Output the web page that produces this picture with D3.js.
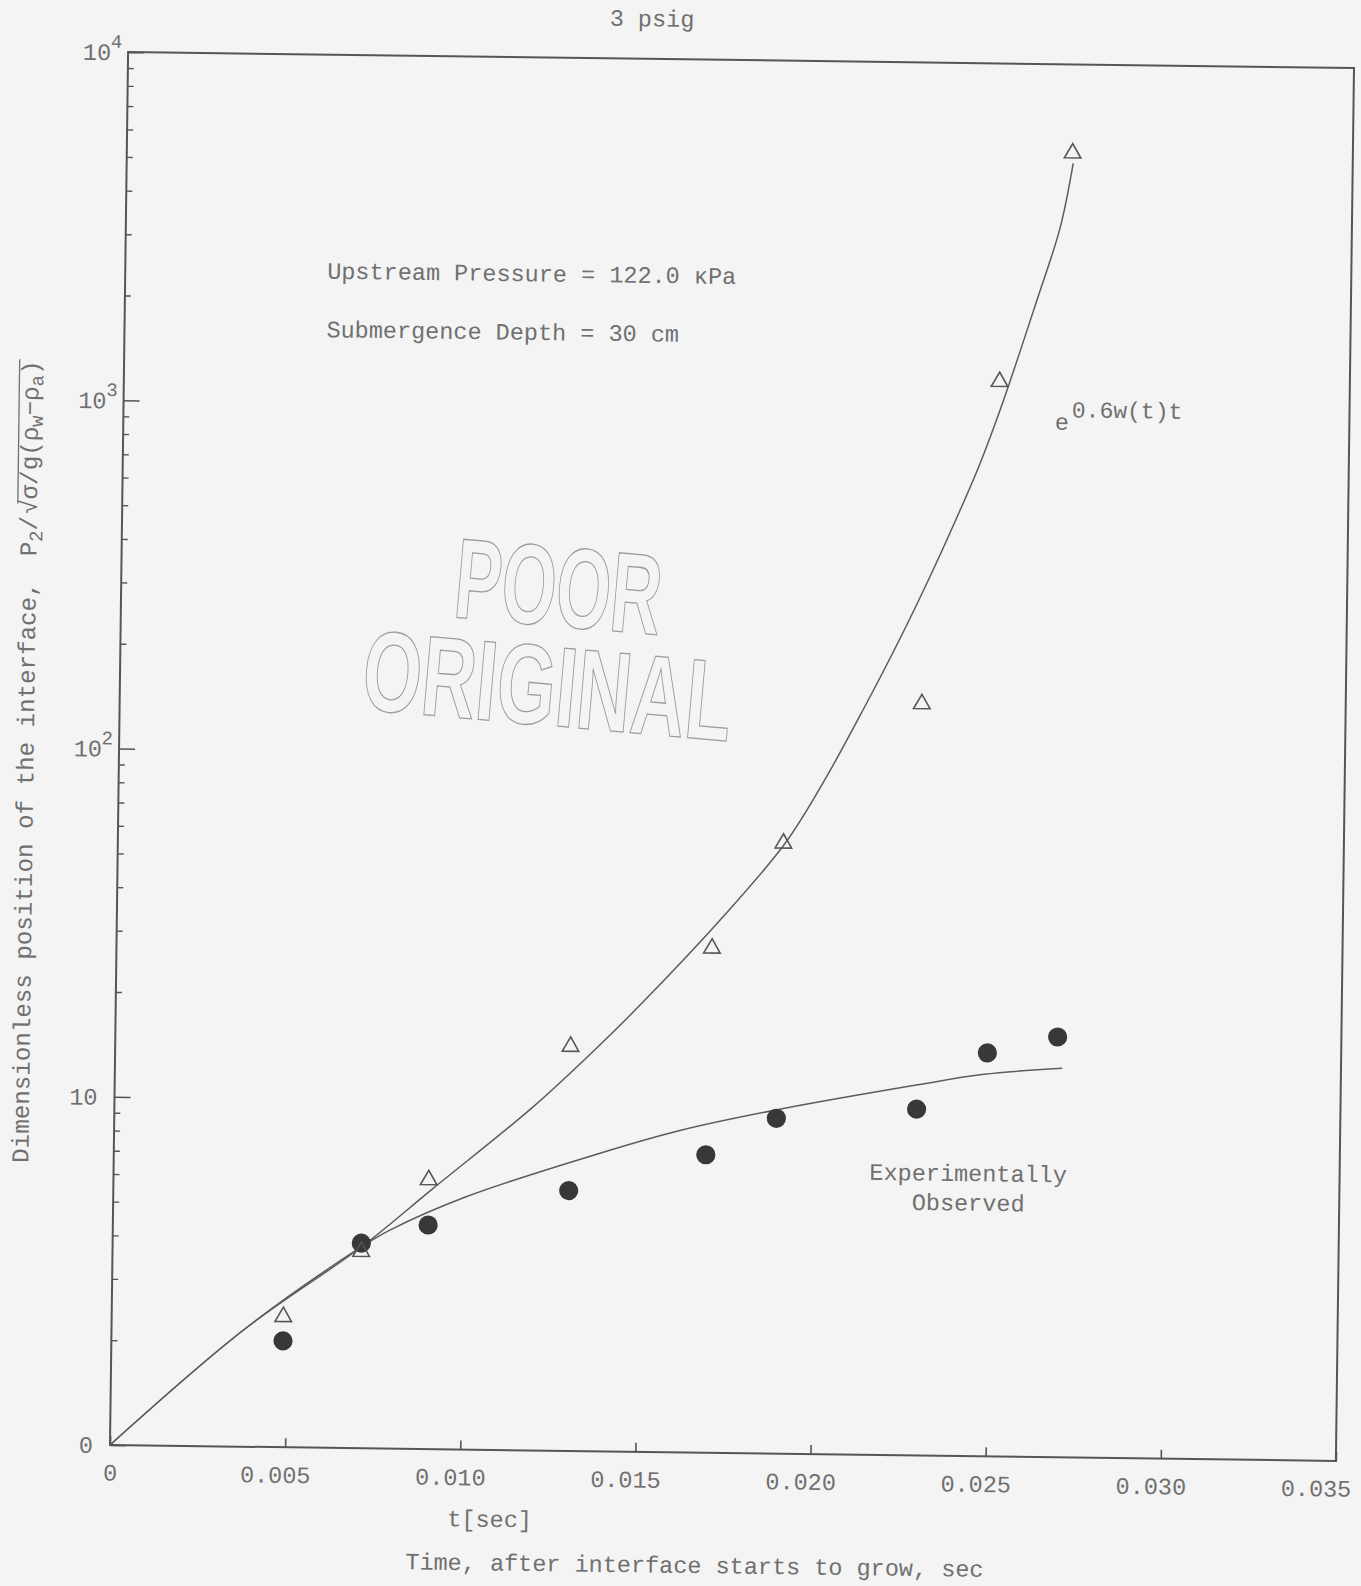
<!DOCTYPE html>
<html>
<head>
<meta charset="utf-8">
<script src="https://cdn.jsdelivr.net/npm/d3@7"></script>
<style>
  html, body { margin: 0; padding: 0; background: #f4f4f4; }
  svg { display: block; }
  .typed { font-family: "Liberation Mono", "DejaVu Sans Mono", monospace; fill: #707070; }
</style>
</head>
<body>
<div id="wrapper" class="wrapper"></div>
<script>
// growth curve e^(0.6 w(t) t)
const growthTime  = [0, 0.00376, 0.00711, 0.00913, 0.01196, 0.01384, 0.01516, 0.01731, 0.01905, 0.02012, 0.02123, 0.02225, 0.02309, 0.02383, 0.02447, 0.02511, 0.02603, 0.02667, 0.02702]
const growthValue = [1, 2.16, 3.79, 5.61, 9.71, 14.7, 20.1, 34.7, 56.6, 85.1, 138, 221, 335, 495, 708, 1072, 2090, 3390, 5200]

// curve through the observed points
const fitTime  = [0, 0.00376, 0.00711, 0.00791, 0.01009, 0.01388, 0.01615, 0.01888, 0.02293, 0.02481, 0.02704]
const fitValue = [1, 2.16, 3.79, 4.24, 5.33, 7.18, 8.40, 9.70, 11.6, 12.5, 13.1]

// triangles (computed)
const triTime  = [0.0049, 0.0071, 0.0090, 0.0130, 0.0170, 0.0190, 0.0229, 0.0250, 0.0270]
const triValue = [2.37, 3.67, 5.93, 14.5, 28.1, 56.6, 144, 1220, 5560]

// filled circles (experimentally observed)
const obsTime  = [0.0049, 0.0071, 0.0090, 0.0130, 0.0169, 0.0189, 0.0229, 0.0249, 0.0269]
const obsValue = [2.02, 3.88, 4.40, 5.59, 7.17, 9.18, 9.87, 14.4, 16.1]

const xTickValues = [0, 0.005, 0.010, 0.015, 0.020, 0.025, 0.030, 0.035]
const xTickLabels = ["0", "0.005", "0.010", "0.015", "0.020", "0.025", "0.030", "0.035"]
const yTickValues = [1, 10, 100, 1000, 10000]
const yTickBase   = ["0", "10", "10", "10", "10"]
const yTickExp    = ["", "", "2", "3", "4"]

let dimensions = {
    width: 1361,
    height: 1586,
    boundedWidth: 1226,
    boundedHeight: 1393,
    originX: 128.1,
    originY: 52.1,
    skew: 0.745,   // the scanned page is slightly rotated
}

const wrapper = d3.select("#wrapper")
    .append("svg")
        .attr("width", dimensions.width)
        .attr("height", dimensions.height)

wrapper.append("rect")
    .attr("width", dimensions.width)
    .attr("height", dimensions.height)
    .attr("fill", "#f4f4f4")

const bounds = wrapper.append("g")
    .attr("transform", `translate(${dimensions.originX},${dimensions.originY}) rotate(${dimensions.skew})`)

const xScale = d3.scaleLinear()
    .domain([0, 0.035])
    .range([0, dimensions.boundedWidth])

const yScale = d3.scaleLog()
    .domain([1, 10000])
    .range([dimensions.boundedHeight, 0])

// frame
bounds.append("rect")
    .attr("width", dimensions.boundedWidth)
    .attr("height", dimensions.boundedHeight)
    .attr("fill", "none")
    .attr("stroke", "#555")
    .attr("stroke-width", 2)

// x axis
const xAxisGenerator = d3.axisBottom(xScale)
    .tickValues(xTickValues)
    .tickFormat((d, i) => xTickLabels[i])
    .tickSize(-9)
    .tickPadding(19)

const xAxis = bounds.append("g")
    .attr("transform", `translate(0,${dimensions.boundedHeight})`)
    .call(xAxisGenerator)
xAxis.select(".domain").remove()
xAxis.selectAll(".tick line").attr("stroke", "#555").attr("stroke-width", 1.6)
xAxis.selectAll(".tick text")
    .attr("class", "typed")
    .attr("font-size", 23.5)
    .attr("dx", (d, i) => i == 0 ? 0 : (i == xTickValues.length - 1 ? -20 : -10))
    .attr("fill", null)

// y axis: major + minor ticks
const yMajor = d3.axisLeft(yScale)
    .tickValues(yTickValues)
    .tickFormat("")
    .tickSize(-16)
const yMajorAxis = bounds.append("g").call(yMajor)
yMajorAxis.select(".domain").remove()
yMajorAxis.selectAll(".tick line").attr("stroke", "#555").attr("stroke-width", 1.6)

const yMinor = d3.axisLeft(yScale)
    .tickValues(yScale.ticks().filter(d => !yTickValues.includes(d)))
    .tickFormat("")
    .tickSize(-6)
const yMinorAxis = bounds.append("g").call(yMinor)
yMinorAxis.select(".domain").remove()
yMinorAxis.selectAll(".tick line").attr("stroke", "#555").attr("stroke-width", 1.4)

const yLabels = bounds.append("g").attr("class", "typed")
yTickValues.forEach((v, i) => {
    const hasExp = yTickExp[i] != ""
    yLabels.append("text")
        .attr("x", hasExp ? -17 : -17)
        .attr("y", yScale(v))
        .attr("dy", "0.35em")
        .attr("text-anchor", "end")
        .attr("font-size", 23.5)
        .text(yTickBase[i])
    if (hasExp) {
        yLabels.append("text")
            .attr("x", -17.5)
            .attr("y", yScale(v) - 4)
            .attr("font-size", 19)
            .text(yTickExp[i])
    }
})

// curves
const lineGenerator = d3.line()
    .x(d => xScale(d[0]))
    .y(d => yScale(d[1]))
    .curve(d3.curveCatmullRom.alpha(0.5))

bounds.append("path")
    .datum(d3.zip(fitTime, fitValue))
    .attr("d", lineGenerator)
    .attr("fill", "none")
    .attr("stroke", "#5c5c5c")
    .attr("stroke-width", 1.5)

bounds.append("path")
    .datum(d3.zip(growthTime, growthValue))
    .attr("d", lineGenerator)
    .attr("fill", "none")
    .attr("stroke", "#5c5c5c")
    .attr("stroke-width", 1.5)

// points
bounds.append("g")
    .selectAll("circle")
    .data(d3.zip(obsTime, obsValue))
    .join("circle")
        .attr("cx", d => xScale(d[0]))
        .attr("cy", d => yScale(d[1]))
        .attr("r", 9.6)
        .attr("fill", "#383838")

const triangle = d3.symbol().type(d3.symbolTriangle).size(118)
bounds.append("g")
    .selectAll("path")
    .data(d3.zip(triTime, triValue))
    .join("path")
        .attr("d", triangle)
        .attr("transform", d => `translate(${xScale(d[0])},${yScale(d[1])})`)
        .attr("fill", "none")
        .attr("stroke", "#555")
        .attr("stroke-width", 1.6)

// texts
const notes = bounds.append("g").attr("class", "typed").attr("font-size", 23.5)

notes.append("text")
    .attr("x", 523.5).attr("y", -32.6)
    .attr("text-anchor", "middle")
    .text("3 psig")

notes.append("text")
    .attr("x", 202).attr("y", 224)
    .text("Upstream Pressure = 122.0 \u03BAPa")

notes.append("text")
    .attr("x", 202).attr("y", 282.5)
    .text("Submergence Depth = 30 cm")

notes.append("text")
    .attr("x", 931.4).attr("y", 365.6)
    .text("e")
notes.append("text")
    .attr("x", 948.4).attr("y", 353)
    .attr("font-size", 23)
    .text("0.6w(t)t")

notes.append("text")
    .attr("x", 854.6).attr("y", 1118)
    .attr("text-anchor", "middle")
    .text("Experimentally")
notes.append("text")
    .attr("x", 855).attr("y", 1147.5)
    .attr("text-anchor", "middle")
    .text("Observed")

notes.append("text")
    .attr("x", 380.6).attr("y", 1470)
    .attr("text-anchor", "middle")
    .text("t[sec]")

notes.append("text")
    .attr("x", 586).attr("y", 1513.5)
    .attr("text-anchor", "middle")
    .text("Time, after interface starts to grow, sec")

// y axis title, typed with full width sub/superscripts
const yTitleGroup = notes.append("g")
    .attr("transform", "translate(-85.4,1112) rotate(-90)")
const yTitle = yTitleGroup.append("text").attr("font-size", 24.2)
yTitle.append("tspan").text("Dimensionless position of the interface,")
yTitle.append("tspan").attr("dx", 26).text("P")
yTitle.append("tspan").attr("font-size", 19).attr("dy", 6).text("2")
yTitle.append("tspan").attr("dy", -6).text("/")
yTitle.append("tspan").attr("dx", 2).text("\u221A")
yTitle.append("tspan").text("\u03C3/g(\u03C1")
yTitle.append("tspan").attr("font-size", 19).attr("dy", 5).text("w")
yTitle.append("tspan").attr("dy", -5).text("\u2212\u03C1")
yTitle.append("tspan").attr("font-size", 19).attr("dy", 5).text("a")
yTitle.append("tspan").attr("dy", -5).text(")")

// overline of the square root
const titleNode = yTitle.node()
const fullText = titleNode.textContent
const rootStart = fullText.indexOf("\u221A")
const lineStart = titleNode.getStartPositionOfChar(rootStart)
const lineEnd = titleNode.getEndPositionOfChar(fullText.length - 1)
const rootEnd = titleNode.getEndPositionOfChar(rootStart)
yTitleGroup.append("line")
    .attr("x1", (lineStart.x + rootEnd.x) / 2 + 3)
    .attr("x2", lineEnd.x + 1)
    .attr("y1", -19)
    .attr("y2", -19)
    .attr("stroke", "#707070")
    .attr("stroke-width", 1.3)

// "POOR ORIGINAL" stamp
const stamp = wrapper.append("g")
    .attr("font-family", "'Liberation Sans', Arial, sans-serif")
    .attr("font-weight", "bold")
    .attr("font-size", 114)
    .attr("fill", "none")
    .attr("stroke", "#9c9c9c")
    .attr("stroke-width", 1.3)

stamp.append("text")
    .attr("transform", "translate(452,617) rotate(5)")
    .attr("textLength", 207)
    .attr("lengthAdjust", "spacingAndGlyphs")
    .text("POOR")

stamp.append("text")
    .attr("transform", "translate(360,709) rotate(5)")
    .attr("textLength", 370)
    .attr("lengthAdjust", "spacingAndGlyphs")
    .text("ORIGINAL")
</script>
</body>
</html>
